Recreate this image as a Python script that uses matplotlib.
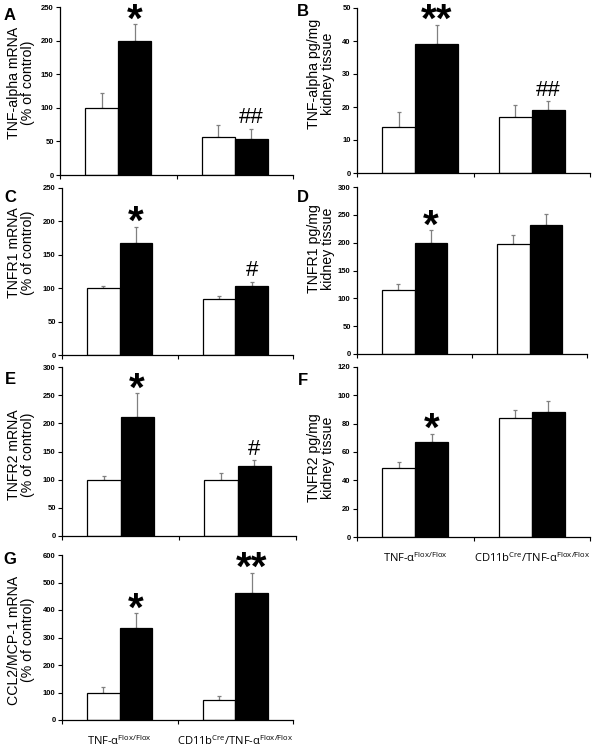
import matplotlib
matplotlib.use("Agg")
import matplotlib.pyplot as plt
import numpy as np

plt.rcParams['font.family'] = ['Liberation Sans', 'DejaVu Sans']

# group labels (x axis)
groups = [r'TNF-α$^{\mathregular{Flox/Flox}}$',
          r'CD11b$^{\mathregular{Cre}}$/TNF-α$^{\mathregular{Flox/Flox}}$']

# A: TNF-alpha mRNA
A_white = [100, 56]
A_white_err = [22, 18]
A_black = [200, 54]
A_black_err = [24, 15]
A_marks = ['*', '##']

# B: TNF-alpha protein
B_white = [14, 17]
B_white_err = [4.5, 3.7]
B_black = [39, 19]
B_black_err = [6, 2.8]
B_marks = ['**', '##']

# C: TNFR1 mRNA
C_white = [100, 84]
C_white_err = [3, 5]
C_black = [167, 103]
C_black_err = [25, 7]
C_marks = ['*', '#']

# D: TNFR1 protein
D_white = [115, 198]
D_white_err = [11, 16]
D_black = [200, 232]
D_black_err = [22, 20]
D_marks = ['*', '']

# E: TNFR2 mRNA
E_white = [100, 100]
E_white_err = [6, 11]
E_black = [211, 125]
E_black_err = [42, 10]
E_marks = ['*', '#']

# F: TNFR2 protein
F_white = [49, 84]
F_white_err = [4, 6]
F_black = [67, 88]
F_black_err = [6, 8]
F_marks = ['*', '']

# G: CCL2/MCP-1 mRNA
G_white = [100, 72]
G_white_err = [20, 17]
G_black = [333, 463]
G_black_err = [55, 73]
G_marks = ['*', '**']

ylims = {'A': (250, 50), 'B': (50, 10), 'C': (250, 50), 'D': (300, 50),
         'E': (300, 50), 'F': (120, 20), 'G': (600, 100)}
ylabels = {'A': 'TNF-alpha mRNA\n(% of control)',
           'B': 'TNF-alpha pg/mg\nkidney tissue',
           'C': 'TNFR1 mRNA\n(% of control)',
           'D': 'TNFR1 pg/mg\nkidney tissue',
           'E': 'TNFR2 mRNA\n(% of control)',
           'F': 'TNFR2 pg/mg\nkidney tissue',
           'G': 'CCL2/MCP-1 mRNA\n(% of control)'}

panels = {
    'A': (A_white, A_white_err, A_black, A_black_err, A_marks),
    'B': (B_white, B_white_err, B_black, B_black_err, B_marks),
    'C': (C_white, C_white_err, C_black, C_black_err, C_marks),
    'D': (D_white, D_white_err, D_black, D_black_err, D_marks),
    'E': (E_white, E_white_err, E_black, E_black_err, E_marks),
    'F': (F_white, F_white_err, F_black, F_black_err, F_marks),
    'G': (G_white, G_white_err, G_black, G_black_err, G_marks),
}

W, H = 595, 750
# pixel boxes: left, top, right, bottom
boxes = {'A': (60, 7, 293, 175), 'B': (357, 8, 590, 173),
         'C': (62, 188, 293, 355), 'D': (357, 187, 587, 354),
         'E': (62, 367, 296, 536), 'F': (357, 367, 590, 537),
         'G': (62, 555, 293, 720)}
label_pos = {'A': (21, 83), 'B': (321, 74), 'C': (21, 253), 'D': (321, 249),
             'E': (21, 455), 'F': (321, 458), 'G': (21, 640)}
letter_pos = {'A': (10, 15), 'B': (303, 12), 'C': (10, 197), 'D': (303, 197),
              'E': (10, 379), 'F': (303, 380), 'G': (10, 560)}

fig = plt.figure(figsize=(W / 100, H / 100), dpi=100)

bw = 0.283
centers = np.array([0.5, 1.5])
errcol = '#808080'
star_fs = 29

for key, (wv, we, bv, be, marks) in panels.items():
    l, t, r, b = boxes[key]
    ax = fig.add_axes([l / W, 1 - b / H, (r - l) / W, (b - t) / H])
    ymax, step = ylims[key]

    # B's first black bar is drawn a little wider in the original
    bwidth = [bw, bw]
    bx = centers + bw / 2
    if key == 'B':
        bwidth = [0.37, bw]
        bx = np.array([0.5 + 0.185, 1.5 + bw / 2])

    ax.bar(centers - bw / 2, wv, bw, color='white', edgecolor='black', linewidth=0.9, zorder=2)
    ax.bar(bx, bv, bwidth, color='black', edgecolor='black', linewidth=0.9, zorder=2)
    ax.errorbar(centers - bw / 2, wv, yerr=[np.zeros(2), we], fmt='none',
                ecolor=errcol, elinewidth=0.9, capsize=1.5, capthick=0.9, zorder=1)
    ax.errorbar(bx, bv, yerr=[np.zeros(2), be], fmt='none',
                ecolor=errcol, elinewidth=0.9, capsize=1.5, capthick=0.9, zorder=1)

    for i, m in enumerate(marks):
        if not m:
            continue
        top = bv[i] + be[i]
        if '*' in m:
            ax.annotate(m, (bx[i], top), xytext=(0, 8.5 - 0.48 * star_fs), textcoords='offset points',
                        ha='center', va='baseline', fontsize=star_fs, fontweight='bold')
        else:
            ax.annotate(m, (bx[i], top), xytext=(0, 9.5 - 0.35 * 16), textcoords='offset points',
                        ha='center', va='baseline', fontsize=16)

    ax.set_xlim(0, 2)
    ax.set_ylim(0, ymax)
    ax.set_yticks(np.arange(0, ymax + step / 2, step))
    ax.set_xticks([0, 1, 2])
    ax.set_xticklabels([])
    ax.tick_params(axis='y', labelsize=5.5, length=3, width=0.8, pad=1.5)
    ax.tick_params(axis='x', length=3, width=0.8)
    for lab in ax.get_yticklabels():
        lab.set_fontweight('bold')
    for s in ['top', 'right']:
        ax.spines[s].set_visible(False)
    for s in ['left', 'bottom']:
        ax.spines[s].set_linewidth(0.9)

    lx, ly = label_pos[key]
    fig.text(lx / W, 1 - ly / H, ylabels[key], rotation=90, ha='center', va='center',
             fontsize=10.2, linespacing=1.05)
    px, py = letter_pos[key]
    fig.text(px / W, 1 - py / H, key, ha='center', va='center', fontsize=12, fontweight='bold')

    if key in ('F', 'G'):
        for c, g in zip(centers, groups):
            ax.text(c, -0.125, g, transform=ax.get_xaxis_transform(), ha='center', va='center',
                    fontsize=8, family=['Open Sans', 'DejaVu Sans'])

fig.savefig('out.png', dpi=100)
